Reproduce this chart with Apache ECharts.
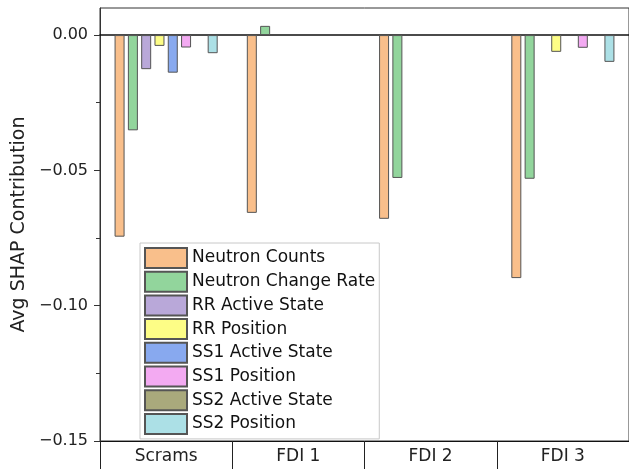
<!DOCTYPE html>
<html>
<head>
<meta charset="utf-8">
<script src="https://cdn.jsdelivr.net/npm/echarts@6/dist/echarts.min.js"></script>
<style>
  html, body { margin: 0; padding: 0; background: #fff; }
  #chart { width: 629px; height: 469px; }
</style>
</head>
<body>
<div id="chart"></div>
<script>
const categories = ['Scrams', 'FDI 1', 'FDI 2', 'FDI 3']
const seriesNames = [
  'Neutron Counts', 'Neutron Change Rate', 'RR Active State', 'RR Position',
  'SS1 Active State', 'SS1 Position', 'SS2 Active State', 'SS2 Position',
]
// '-' = no bar drawn for that feature
const neutronCounts = [-0.0745, -0.0657, -0.0679, -0.0898]
const neutronChangeRate = [-0.0352, 0.0034, -0.0528, -0.0531]
const rrActiveState = [-0.0126, '-', '-', '-']
const rrPosition = [-0.004, '-', '-', -0.0062]
const ss1ActiveState = [-0.0139, '-', '-', '-']
const ss1Position = [-0.0046, '-', '-', -0.0047]
const ss2ActiveState = ['-', '-', '-', '-']
const ss2Position = [-0.0067, '-', '-', -0.0099]
const majorTicks = [-0.15, -0.1, -0.05, 0]
const minorTicks = [-0.125, -0.075, -0.025]

const allValues = [
  neutronCounts, neutronChangeRate, rrActiveState, rrPosition,
  ss1ActiveState, ss1Position, ss2ActiveState, ss2Position,
]
const colors = ['#f9bf8b', '#92d59c', '#b9a8d9', '#fdfd86', '#88a9ef', '#f3aaf2', '#a9a97c', '#ace0e6']

const chart = echarts.init(document.getElementById('chart'))
const font = '"DejaVu Sans", sans-serif'

const series = allValues.map((vals, i) => ({
  name: seriesNames[i],
  type: 'bar',
  data: vals,
  barWidth: 10,
  barGap: '33%',
  itemStyle: { color: colors[i], borderColor: '#555', borderWidth: 1 },
}))

chart.setOption({
  animation: false,
  textStyle: { fontFamily: font },
  grid: {
    left: 100, right: -6, top: 8, bottom: 28,
    show: true, borderColor: '#333', borderWidth: 1,
  },
  legend: {
    orient: 'vertical',
    left: 140, top: 243,
    itemWidth: 42, itemHeight: 20, itemGap: 1.7,
    icon: 'rect',
    padding: [4, 4, 4, 4],
    backgroundColor: '#fff',
    borderColor: '#c8c8c8', borderWidth: 1,
    textStyle: { fontSize: 17, color: '#111', fontFamily: font },
    data: seriesNames,
  },
  xAxis: [
    {
      type: 'category',
      data: categories,
      axisLine: { onZero: false, lineStyle: { color: '#111', width: 1.2 } },
      axisTick: { show: true, length: 30, interval: 0, lineStyle: { color: '#222' } },
      axisLabel: { fontSize: 17, color: '#222', margin: 7, fontFamily: font },
    },
    {
      // zero reference line
      type: 'category',
      data: categories,
      position: 'bottom',
      axisLine: { show: true, onZero: true, lineStyle: { color: '#111', width: 1.5 } },
      axisTick: { show: false },
      axisLabel: { show: false },
    },
  ],
  yAxis: [
    {
      type: 'value',
      min: -0.15, max: 0.01,
      name: 'Avg SHAP Contribution',
      nameLocation: 'middle',
      nameGap: 66,
      nameTextStyle: { fontSize: 19, color: '#222', fontFamily: font },
      axisLine: { show: true, lineStyle: { color: '#333', width: 1 } },
      axisTick: { show: true, length: 6, customValues: majorTicks, lineStyle: { color: '#333' } },
      axisLabel: {
        customValues: majorTicks,
        fontSize: 16, color: '#222', margin: 12, fontFamily: font,
        formatter: (v) => v.toFixed(2).replace('-', '\u2212'),
      },
      splitLine: { show: false },
    },
    {
      type: 'value',
      min: -0.15, max: 0.01,
      position: 'left',
      axisLine: { show: false },
      axisTick: { show: true, length: 4, customValues: minorTicks, lineStyle: { color: '#333' } },
      axisLabel: { show: false },
      splitLine: { show: false },
    },
  ],
  series,
})
</script>
</body>
</html>
